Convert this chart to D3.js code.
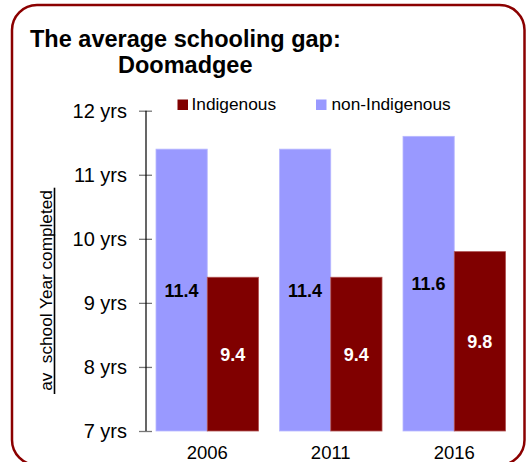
<!DOCTYPE html>
<html>
<head>
<meta charset="utf-8">
<script src="https://cdn.jsdelivr.net/npm/d3@7"></script>
<style>
  html, body { margin: 0; padding: 0; background: #fff; }
  svg { display: block; font-family: "Liberation Sans", Arial, sans-serif; }
</style>
</head>
<body>
<svg id="chart" width="531" height="462"></svg>
<script>
// Census years and average school year completed in Doomadgee
const years = ["2006", "2011", "2016"];
const indigenous = [9.4, 9.4, 9.8];
const nonIndigenous = [11.4, 11.4, 11.6];
const seriesNames = ["non-Indigenous", "Indigenous"];
const yTicks = [7, 8, 9, 10, 11, 12];

const colors = { "non-Indigenous": "#9999ff", "Indigenous": "#800000" };
const edges = { "non-Indigenous": "#b8b8ff", "Indigenous": "#b05050" };

const svg = d3.select("#chart");

// rounded frame
svg.append("rect")
  .attr("x", 12).attr("y", 5)
  .attr("width", 512.5).attr("height", 460)
  .attr("rx", 25).attr("ry", 25)
  .attr("fill", "none")
  .attr("stroke", "#8b0000")
  .attr("stroke-width", 2.5);

// title
svg.append("text")
  .attr("x", 30).attr("y", 46.5)
  .attr("font-size", 23.5).attr("font-weight", "bold")
  .text("The average schooling gap:");
svg.append("text")
  .attr("x", 118).attr("y", 72.5)
  .attr("font-size", 23.5).attr("font-weight", "bold")
  .text("Doomadgee");

// scales
const y = d3.scaleLinear().domain([7, 12]).range([431, 110.7]);
const x0 = d3.scaleBand().domain(years).range([145.5, 516])
  .paddingInner(0.17).paddingOuter(0.085);
const x1 = d3.scaleBand().domain(seriesNames).range([0, x0.bandwidth()]);

const rows = years.map((yr, i) => ({
  year: yr,
  values: [
    { key: "non-Indigenous", value: nonIndigenous[i] },
    { key: "Indigenous", value: indigenous[i] }
  ]
}));

// bars
const groups = svg.append("g").selectAll("g")
  .data(rows).join("g")
  .attr("transform", d => `translate(${x0(d.year)},0)`);

groups.selectAll("rect")
  .data(d => d.values).join("rect")
  .attr("x", d => x1(d.key))
  .attr("y", d => y(d.value))
  .attr("width", x1.bandwidth())
  .attr("height", d => y(7) - y(d.value))
  .attr("fill", d => colors[d.key])
  .attr("stroke", d => edges[d.key])
  .attr("stroke-width", 0.8);

// value labels, centred in each bar
groups.selectAll("text")
  .data(d => d.values).join("text")
  .attr("x", d => x1(d.key) + x1.bandwidth() / 2)
  .attr("y", d => (y(d.value) + y(7)) / 2)
  .attr("dy", "0.36em")
  .attr("text-anchor", "middle")
  .attr("font-size", 18).attr("font-weight", "bold")
  .attr("fill", d => d.key === "Indigenous" ? "#ffffff" : "#000000")
  .text(d => d.value.toFixed(1));

// y axis
const axisX = 146;
const yAxis = svg.append("g")
  .attr("transform", `translate(${axisX},0)`)
  .call(d3.axisLeft(y).tickValues(yTicks).tickSize(7).tickPadding(12)
    .tickFormat(d => d + " yrs"));
yAxis.select(".domain").remove();
yAxis.selectAll(".tick line")
  .attr("x1", 6).attr("x2", -7)
  .attr("stroke", "#777").attr("stroke-width", 1.3);
yAxis.selectAll(".tick text")
  .attr("font-size", 20)
  .attr("font-family", "Liberation Sans, Arial, sans-serif")
  .attr("fill", "#000");
svg.append("line")
  .attr("x1", axisX).attr("x2", axisX)
  .attr("y1", y(12)).attr("y2", y(7))
  .attr("stroke", "#000").attr("stroke-width", 1.2);

// x labels
svg.append("g").selectAll("text")
  .data(years).join("text")
  .attr("x", d => x0(d) + x0.bandwidth() / 2)
  .attr("y", 459)
  .attr("text-anchor", "middle")
  .attr("font-size", 18.5)
  .text(d => d);

// y axis title with underline
const yTitle = svg.append("text")
  .attr("transform", "translate(52,290.5) rotate(-90)")
  .attr("text-anchor", "middle")
  .attr("font-size", 17.2)
  .style("white-space", "pre")
  .text("av  school Year completed");
svg.append("line")
  .attr("x1", 54.5).attr("x2", 54.5)
  .attr("y1", 187.7).attr("y2", 394)
  .attr("stroke", "#000").attr("stroke-width", 1.6);

// legend
const legendItems = [
  { key: "Indigenous", sx: 177.5, tx: 191.5 },
  { key: "non-Indigenous", sx: 316, tx: 331.5 }
];
const legend = svg.append("g").selectAll("g")
  .data(legendItems).join("g");
legend.append("rect")
  .attr("x", d => d.sx).attr("y", 99.5)
  .attr("width", 10.5).attr("height", 10.5)
  .attr("fill", d => colors[d.key]);
legend.append("text")
  .attr("x", d => d.tx).attr("y", 110)
  .attr("font-size", 17.3)
  .text(d => d.key);
</script>
</body>
</html>
